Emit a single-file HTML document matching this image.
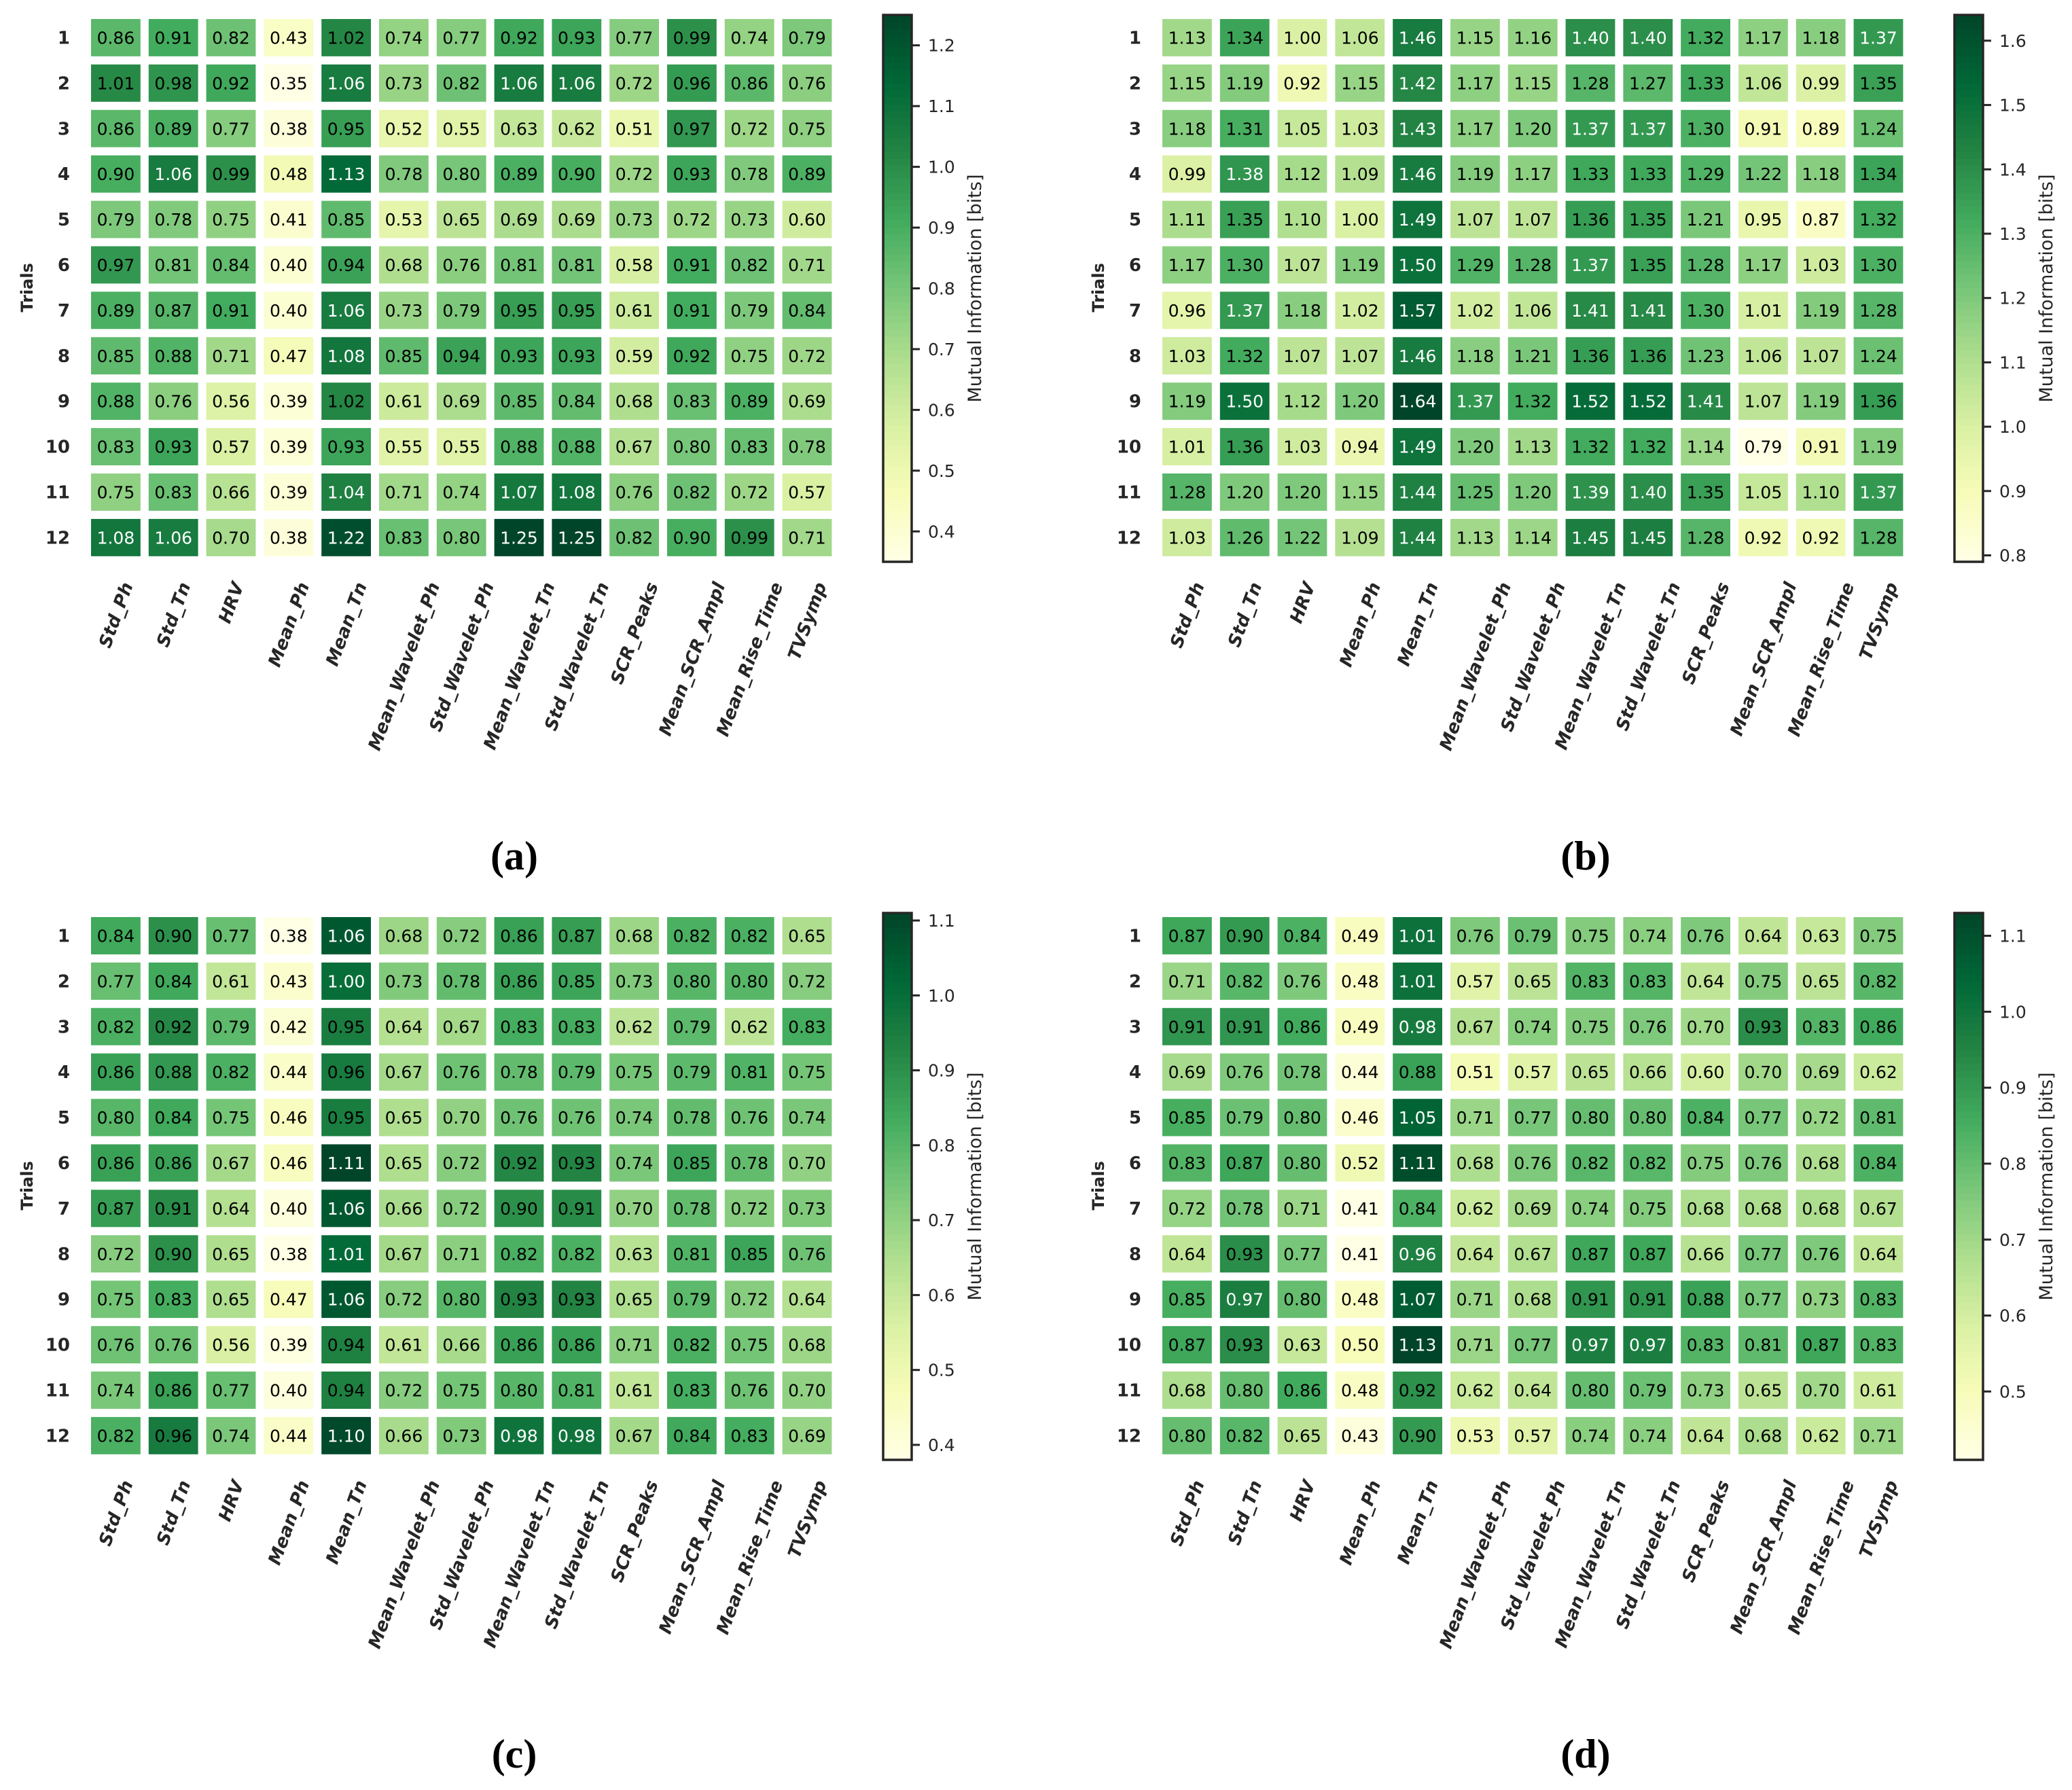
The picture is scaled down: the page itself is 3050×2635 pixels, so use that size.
<!DOCTYPE html>
<html><head><meta charset="utf-8"><style>
html,body{margin:0;padding:0;background:#fff;}
svg{display:block;font-family:"DejaVu Sans","Liberation Sans",sans-serif;}
</style></head><body>
<svg id="fig" width="3050" height="2635" viewBox="0 0 3050 2635" xmlns="http://www.w3.org/2000/svg"></svg>
<script>
const features = ["Std_Ph","Std_Tn","HRV","Mean_Ph","Mean_Tn","Mean_Wavelet_Ph","Std_Wavelet_Ph","Mean_Wavelet_Tn","Std_Wavelet_Tn","SCR_Peaks","Mean_SCR_Ampl","Mean_Rise_Time","TVSymp"];
const trials = ["1","2","3","4","5","6","7","8","9","10","11","12"];
const valuesA = [
[.86,.91,.82,.43,1.02,.74,.77,.92,.93,.77,.99,.74,.79],
[1.01,.98,.92,.35,1.06,.73,.82,1.06,1.06,.72,.96,.86,.76],
[.86,.89,.77,.38,.95,.52,.55,.63,.62,.51,.97,.72,.75],
[.90,1.06,.99,.48,1.13,.78,.80,.89,.90,.72,.93,.78,.89],
[.79,.78,.75,.41,.85,.53,.65,.69,.69,.73,.72,.73,.60],
[.97,.81,.84,.40,.94,.68,.76,.81,.81,.58,.91,.82,.71],
[.89,.87,.91,.40,1.06,.73,.79,.95,.95,.61,.91,.79,.84],
[.85,.88,.71,.47,1.08,.85,.94,.93,.93,.59,.92,.75,.72],
[.88,.76,.56,.39,1.02,.61,.69,.85,.84,.68,.83,.89,.69],
[.83,.93,.57,.39,.93,.55,.55,.88,.88,.67,.80,.83,.78],
[.75,.83,.66,.39,1.04,.71,.74,1.07,1.08,.76,.82,.72,.57],
[1.08,1.06,.70,.38,1.22,.83,.80,1.25,1.25,.82,.90,.99,.71]];
const valuesB = [
[1.13,1.34,1.00,1.06,1.46,1.15,1.16,1.40,1.40,1.32,1.17,1.18,1.37],
[1.15,1.19,.92,1.15,1.42,1.17,1.15,1.28,1.27,1.33,1.06,.99,1.35],
[1.18,1.31,1.05,1.03,1.43,1.17,1.20,1.37,1.37,1.30,.91,.89,1.24],
[.99,1.38,1.12,1.09,1.46,1.19,1.17,1.33,1.33,1.29,1.22,1.18,1.34],
[1.11,1.35,1.10,1.00,1.49,1.07,1.07,1.36,1.35,1.21,.95,.87,1.32],
[1.17,1.30,1.07,1.19,1.50,1.29,1.28,1.37,1.35,1.28,1.17,1.03,1.30],
[.96,1.37,1.18,1.02,1.57,1.02,1.06,1.41,1.41,1.30,1.01,1.19,1.28],
[1.03,1.32,1.07,1.07,1.46,1.18,1.21,1.36,1.36,1.23,1.06,1.07,1.24],
[1.19,1.50,1.12,1.20,1.64,1.37,1.32,1.52,1.52,1.41,1.07,1.19,1.36],
[1.01,1.36,1.03,.94,1.49,1.20,1.13,1.32,1.32,1.14,.79,.91,1.19],
[1.28,1.20,1.20,1.15,1.44,1.25,1.20,1.39,1.40,1.35,1.05,1.10,1.37],
[1.03,1.26,1.22,1.09,1.44,1.13,1.14,1.45,1.45,1.28,.92,.92,1.28]];
const valuesC = [
[.84,.90,.77,.38,1.06,.68,.72,.86,.87,.68,.82,.82,.65],
[.77,.84,.61,.43,1.00,.73,.78,.86,.85,.73,.80,.80,.72],
[.82,.92,.79,.42,.95,.64,.67,.83,.83,.62,.79,.62,.83],
[.86,.88,.82,.44,.96,.67,.76,.78,.79,.75,.79,.81,.75],
[.80,.84,.75,.46,.95,.65,.70,.76,.76,.74,.78,.76,.74],
[.86,.86,.67,.46,1.11,.65,.72,.92,.93,.74,.85,.78,.70],
[.87,.91,.64,.40,1.06,.66,.72,.90,.91,.70,.78,.72,.73],
[.72,.90,.65,.38,1.01,.67,.71,.82,.82,.63,.81,.85,.76],
[.75,.83,.65,.47,1.06,.72,.80,.93,.93,.65,.79,.72,.64],
[.76,.76,.56,.39,.94,.61,.66,.86,.86,.71,.82,.75,.68],
[.74,.86,.77,.40,.94,.72,.75,.80,.81,.61,.83,.76,.70],
[.82,.96,.74,.44,1.10,.66,.73,.98,.98,.67,.84,.83,.69]];
const valuesD = [
[.87,.90,.84,.49,1.01,.76,.79,.75,.74,.76,.64,.63,.75],
[.71,.82,.76,.48,1.01,.57,.65,.83,.83,.64,.75,.65,.82],
[.91,.91,.86,.49,.98,.67,.74,.75,.76,.70,.93,.83,.86],
[.69,.76,.78,.44,.88,.51,.57,.65,.66,.60,.70,.69,.62],
[.85,.79,.80,.46,1.05,.71,.77,.80,.80,.84,.77,.72,.81],
[.83,.87,.80,.52,1.11,.68,.76,.82,.82,.75,.76,.68,.84],
[.72,.78,.71,.41,.84,.62,.69,.74,.75,.68,.68,.68,.67],
[.64,.93,.77,.41,.96,.64,.67,.87,.87,.66,.77,.76,.64],
[.85,.97,.80,.48,1.07,.71,.68,.91,.91,.88,.77,.73,.83],
[.87,.93,.63,.50,1.13,.71,.77,.97,.97,.83,.81,.87,.83],
[.68,.80,.86,.48,.92,.62,.64,.80,.79,.73,.65,.70,.61],
[.80,.82,.65,.43,.90,.53,.57,.74,.74,.64,.68,.62,.71]];
const ticksA = [0.4,0.5,0.6,0.7,0.8,0.9,1.0,1.1,1.2];
const ticksB = [0.8,0.9,1.0,1.1,1.2,1.3,1.4,1.5,1.6];
const ticksC = [0.4,0.5,0.6,0.7,0.8,0.9,1.0,1.1];
const ticksD = [0.5,0.6,0.7,0.8,0.9,1.0,1.1];
const captions = ["(a)","(b)","(c)","(d)"];

const NS="http://www.w3.org/2000/svg";
const svg=document.getElementById('fig');
const YLGN=["#ffffe5","#f7fcb9","#d9f0a3","#addd8e","#78c679","#41ab5d","#238443","#006837","#004529"];
function hex(h){return [1,3,5].map(i=>parseInt(h.substr(i,2),16));}
function cmap(t){t=Math.max(0,Math.min(1,t));const s=t*(YLGN.length-1);const i=Math.min(YLGN.length-2,Math.floor(s));const f=s-i;const a=hex(YLGN[i]),b=hex(YLGN[i+1]);return a.map((v,k)=>Math.round(v+(b[k]-v)*f));}
function rgbStr(c){return `rgb(${c[0]},${c[1]},${c[2]})`;}
function mk(tag,attrs,parent){const e=document.createElementNS(NS,tag);for(const k in attrs)e.setAttribute(k,attrs[k]);(parent||svg).appendChild(e);return e;}

const GL=128, GT=22, PW=84.8, PH=66.9, INS=6;
const CBX=1300, CBW=42, CBT=22, CBB=827;

function panel(values, ticks, caption, ox, oy, key, whiteAbove){
  const g=mk('g',{transform:`translate(${ox},${oy})`});
  
  
  const flat=values.flat();
  const vmin=Math.min(...flat), vmax=Math.max(...flat);
  const xPos=j=>GL+j*PW;
  const yPos=i=>GT+i*PH;
  values.forEach((row,i)=>row.forEach((v,j)=>{
    const c=cmap((v-vmin)/(vmax-vmin));
    const r=mk('rect',{x:xPos(j)+INS,y:yPos(i)+INS,width:PW-2*INS,height:PH-2*INS,fill:rgbStr(c)},g);
    
    
    const t=mk('text',{x:xPos(j)+PW/2,y:yPos(i)+PH/2+9,'text-anchor':'middle','font-size':25,fill:v>whiteAbove?'#fff':'#000'},g);
    t.textContent=v.toFixed(2);
    
    
  }));
  trials.forEach((lab,i)=>{
    const t=mk('text',{x:103,y:yPos(i)+PH/2+9,'text-anchor':'end','font-size':26,'font-weight':'bold',fill:'#262626'},g);
    t.textContent=lab;
    
    
  });
  const yt=mk('text',{transform:`translate(48,${GT+6*PH}) rotate(-90)`,'text-anchor':'middle','font-size':24,'font-weight':'bold',fill:'#262626'},g);
  yt.textContent='Trials';
  
  
  features.forEach((lab,j)=>{
    const f=26;
    const t=mk('text',{'text-anchor':'end','font-size':f,'font-weight':'bold','font-style':'italic',fill:'#262626'},g);
    t.textContent=lab;
    
    
    const L=t.getComputedTextLength();
    const cx=xPos(j)+PW/2;
    const ax=cx+(L*0.342+0.66*f)/2;
    const ay=855+0.24*f;
    t.setAttribute('transform',`translate(${ax},${ay}) rotate(-70)`);
  });
  const cbScale=v=>CBB-(v-vmin)/(vmax-vmin)*(CBB-CBT);
  const N=80;
  for(let k=0;k<N;k++){
    const v0=vmin+(vmax-vmin)*k/N, v1=vmin+(vmax-vmin)*(k+1)/N;
    const c=cmap((k+0.5)/N);
    mk('rect',{x:CBX,y:cbScale(v1)-0.5,width:CBW,height:cbScale(v0)-cbScale(v1)+1,fill:rgbStr(c)},g);
  }
  const cb=mk('rect',{x:CBX,y:CBT,width:CBW,height:CBB-CBT,fill:'none',stroke:'#262626','stroke-width':3.5},g);
  
  
  ticks.forEach(v=>{
    const y=cbScale(v);
    mk('line',{x1:CBX+CBW,x2:CBX+CBW+12,y1:y,y2:y,stroke:'#262626','stroke-width':3},g);
    const t=mk('text',{x:CBX+CBW+24,y:y+9,'font-size':25,fill:'#262626'},g);
    t.textContent=v.toFixed(1);
    
    
  });
  const cl=mk('text',{transform:`translate(1444,${(CBT+CBB)/2}) rotate(-90)`,'text-anchor':'middle','font-size':27,fill:'#262626'},g);
  cl.textContent='Mutual Information [bits]';
  
  
  const cap=mk('text',{x:757,y:1280,'text-anchor':'middle','font-size':60,'font-weight':'bold','font-family':'"Liberation Serif",serif',fill:'#000'},g);
  cap.textContent=caption;
  
  
}
panel(valuesA,ticksA,captions[0],0,0,'a',1.03);
panel(valuesB,ticksB,captions[1],1577,0,'b',1.365);
panel(valuesC,ticksC,captions[2],0,1322,'c',0.97);
panel(valuesD,ticksD,captions[3],1577,1322,'d',0.945);
</script>
</body></html>
